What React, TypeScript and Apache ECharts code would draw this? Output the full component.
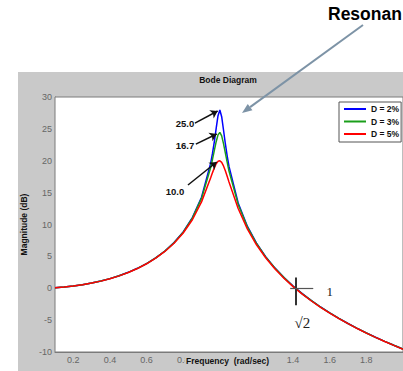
import React, { useEffect, useRef } from "react";
import * as echarts from "echarts";

// Frequency (rad/sec) sample points
const freq = [0.1, 0.15, 0.2, 0.25, 0.3, 0.35, 0.4, 0.45, 0.5, 0.55, 0.6, 0.65, 0.7, 0.75, 0.8, 0.85, 0.9, 0.95, 0.96, 0.97, 0.98, 0.99, 1.0, 1.01, 1.02, 1.03, 1.04, 1.05, 1.1, 1.15, 1.2, 1.25, 1.3, 1.35, 1.4, 1.45, 1.5, 1.55, 1.6, 1.65, 1.7, 1.75, 1.8, 1.85, 1.9, 1.95, 2.0];

// Magnitude (dB) for each damping ratio
const magD2 = [0.09, 0.2, 0.35, 0.56, 0.82, 1.13, 1.51, 1.96, 2.5, 3.13, 3.87, 4.76, 5.84, 7.16, 8.84, 11.07, 14.27, 19.61, 21.18, 23.01, 25.08, 27.07, 27.96, 26.91, 24.82, 22.67, 20.76, 19.11, 13.37, 9.74, 7.08, 4.96, 3.2, 1.69, 0.34, -0.85, -1.94, -2.94, -3.86, -4.72, -5.53, -6.29, -7.01, -7.69, -8.33, -8.95, -9.54];
const magD3 = [0.09, 0.2, 0.35, 0.56, 0.82, 1.13, 1.51, 1.96, 2.49, 3.12, 3.86, 4.75, 5.82, 7.13, 8.8, 10.99, 14.09, 18.94, 20.24, 21.63, 22.99, 24.06, 24.44, 23.9, 22.69, 21.23, 19.77, 18.39, 13.15, 9.64, 7.02, 4.92, 3.17, 1.67, 0.32, -0.87, -1.95, -2.95, -3.87, -4.73, -5.54, -6.3, -7.02, -7.7, -8.34, -8.95, -9.55];
const magD5 = [0.09, 0.2, 0.35, 0.55, 0.81, 1.12, 1.5, 1.94, 2.47, 3.09, 3.84, 4.71, 5.77, 7.05, 8.66, 10.75, 13.55, 17.32, 18.14, 18.89, 19.52, 19.91, 20.0, 19.74, 19.19, 18.44, 17.58, 16.67, 12.5, 9.31, 6.82, 4.79, 3.07, 1.58, 0.26, -0.93, -2.0, -2.99, -3.91, -4.76, -5.56, -6.32, -7.03, -7.71, -8.35, -8.96, -9.56];

const seriesNames = ["D = 2%", "D = 3%", "D = 5%"];
const seriesColors = ["#0000ff", "#1a9e1a", "#ff0000"];

const xTicks = [0.2, 0.4, 0.6, 0.8, 1.0, 1.2, 1.4, 1.6, 1.8];
// 1.0 is hidden behind the axis title in the reference
const xLabelValues = [0.2, 0.4, 0.6, 0.8, 1.2, 1.4, 1.6, 1.8];

// Peak annotations: label, label position, arrow start, arrow tip
const peakLabels = ["25.0", "16.7", "10.0"];
const peakLabelPos = [[0.81, 25.9], [0.81, 22.4], [0.755, 15.2]];
const peakArrowFrom = [[0.864, 25.9], [0.869, 22.6], [0.826, 16.2]];
const peakArrowTo = [[0.988, 27.8], [0.983, 24.2], [0.983, 19.8]];

const FONT = "Liberation Sans, Arial, Helvetica, sans-serif";

export default function App() {
  const ref = useRef<HTMLDivElement>(null);

  useEffect(() => {
    document.body.style.margin = "0";
    if (!ref.current) return;
    const chart = echarts.init(ref.current, undefined, { renderer: "svg" });

    const mags = [magD2, magD3, magD5];

    const markLineData: any[] = peakLabels.map((_, i) => [
      { coord: peakArrowFrom[i], symbol: "none" },
      { coord: peakArrowTo[i], symbol: "arrow" },
    ]);
    markLineData.push([
      { coord: [1.414, 1.7], symbol: "none", lineStyle: { color: "#333", width: 2, type: "solid" } },
      { coord: [1.414, -2.65], symbol: "none" },
    ]);
    markLineData.push([
      { coord: [1.384, 0], symbol: "none", lineStyle: { color: "#555", width: 1.2, type: "solid" } },
      { coord: [1.51, 0], symbol: "none" },
    ]);

    const markPointData: any[] = peakLabels.map((t, i) => ({
      name: t,
      coord: peakLabelPos[i],
    }));
    markPointData.push({
      name: "1",
      coord: [1.6, -0.45],
      label: { fontFamily: "Liberation Serif, Times New Roman, serif", fontWeight: "normal", fontSize: 13, color: "#222" },
    });
    markPointData.push({
      name: "√2",
      coord: [1.45, -5.5],
      label: { fontFamily: "Liberation Serif, Times New Roman, serif", fontWeight: "normal", fontSize: 15, color: "#222" },
    });

    const series: any[] = seriesNames.map((name, i) => ({
      name,
      type: "line",
      data: freq.map((f, j) => [f, mags[i][j]]),
      symbol: "none",
      lineStyle: { color: seriesColors[i], width: 1.5 },
      itemStyle: { color: seriesColors[i] },
      z: 2 + i,
    }));

    series[2].markLine = {
      silent: true,
      symbol: ["none", "arrow"],
      symbolSize: 7,
      label: { show: false },
      lineStyle: { color: "#111", width: 1.5, type: "solid" },
      data: markLineData,
    };
    series[2].markPoint = {
      silent: true,
      symbol: "circle",
      symbolSize: 0,
      itemStyle: { color: "rgba(0,0,0,0)" },
      label: {
        show: true,
        position: "inside",
        formatter: "{b}",
        fontFamily: FONT,
        fontWeight: "bold",
        fontSize: 9.5,
        color: "#111",
      },
      data: markPointData,
    };

    // Big "Resonan" arrow (pixel annotation)
    const sx = 363, sy = 25, tx = 242, ty = 113;
    const dx = tx - sx, dy = ty - sy;
    const len = Math.sqrt(dx * dx + dy * dy);
    const ux = dx / len, uy = dy / len;
    const bx = tx - 10 * ux, by = ty - 10 * uy;
    const px = -uy, py = ux;

    const option: any = {
      animation: false,
      backgroundColor: "#ffffff",
      textStyle: { fontFamily: FONT },
      grid: {
        left: 55,
        top: 97,
        width: 350.7,
        height: 255,
        show: true,
        backgroundColor: "#ffffff",
        borderColor: "#7a7a7a",
        borderWidth: 1,
        z: 1,
      },
      xAxis: {
        type: "value",
        min: 0.1,
        max: 2.0,
        axisLine: { show: true, onZero: false, lineStyle: { color: "#7a7a7a" } },
        axisTick: { show: true, inside: true, length: 3, customValues: xTicks, lineStyle: { color: "#7a7a7a" } },
        axisLabel: {
          customValues: xLabelValues,
          color: "#666",
          fontSize: 9,
          margin: 3,
          formatter: (v: number) => v.toFixed(1),
        },
        splitLine: { show: true, lineStyle: { color: "#999", type: [2, 2], width: 1 } },
      },
      yAxis: {
        type: "value",
        min: -10,
        max: 30,
        interval: 5,
        name: "Magnitude (dB)",
        nameLocation: "middle",
        nameGap: 17,
        nameTextStyle: { fontSize: 8.5, fontWeight: "bold", color: "#111", fontFamily: FONT },
        axisLine: { show: true, lineStyle: { color: "#7a7a7a" } },
        axisTick: { show: true, inside: true, length: 3, lineStyle: { color: "#7a7a7a" } },
        axisLabel: { color: "#666", fontSize: 9, margin: 3 },
        splitLine: { show: true, lineStyle: { color: "#999", type: [2, 2], width: 1 } },
      },
      legend: {
        data: seriesNames,
        orient: "vertical",
        left: 339,
        top: 102,
        padding: [2, 2, 3, 5],
        itemWidth: 22,
        itemHeight: 2,
        itemGap: 2.5,
        icon: "rect",
        backgroundColor: "#ffffff",
        borderColor: "#555",
        borderWidth: 1,
        selectedMode: false,
        textStyle: { fontSize: 8.5, fontWeight: "bold", color: "#111", lineHeight: 10, fontFamily: FONT },
      },
      graphic: [
        {
          type: "rect",
          shape: { x: 18, y: 72, width: 385, height: 299 },
          style: { fill: "#c9c9c9" },
          z: -10,
          silent: true,
        },
        {
          type: "text",
          x: 228,
          y: 79.5,
          style: {
            text: "Bode Diagram",
            fontFamily: FONT,
            fontSize: 8.5,
            fontWeight: "bold",
            fill: "#111",
            align: "center",
            verticalAlign: "middle",
          },
          z: 10,
        },
        {
          type: "text",
          x: 185,
          y: 360.5,
          style: {
            text: "Frequency  (rad/sec)",
            fontFamily: FONT,
            fontSize: 8.5,
            fontWeight: "bold",
            fill: "#111",
            align: "left",
            verticalAlign: "middle",
            backgroundColor: "#c9c9c9",
            padding: [1, 1, 1, 1],
          },
          z: 100,
        },
        {
          type: "text",
          x: 328,
          y: 14,
          style: {
            text: "Resonan",
            fontFamily: FONT,
            fontSize: 17.5,
            fontWeight: "bold",
            fill: "#000",
            align: "left",
            verticalAlign: "middle",
          },
          z: 100,
        },
        {
          type: "line",
          shape: { x1: sx, y1: sy, x2: bx, y2: by },
          style: { stroke: "#7d93a6", lineWidth: 2 },
          z: 100,
          silent: true,
        },
        {
          type: "polygon",
          shape: {
            points: [
              [tx, ty],
              [bx + 4 * px, by + 4 * py],
              [bx - 4 * px, by - 4 * py],
            ],
          },
          style: { fill: "#7d93a6" },
          z: 100,
          silent: true,
        },
      ],
      series,
    };

    chart.setOption(option);
    return () => chart.dispose();
  }, []);

  return <div ref={ref} style={{ width: 403, height: 371 }} />;
}
